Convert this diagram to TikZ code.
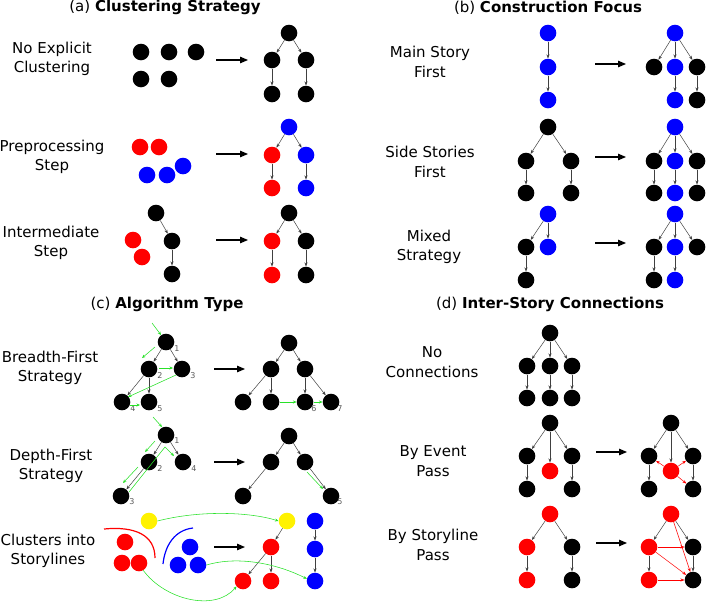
\documentclass[tikz,border=0pt]{standalone}
\usepackage{fontspec}
\setmainfont{DejaVu Sans}
\usetikzlibrary{arrows.meta}
\definecolor{lgreen}{RGB}{40,225,40}
\begin{document}
\begin{tikzpicture}[x=1pt,y=-1pt,
  ball/.style={circle,inner sep=0pt,minimum size=16.6pt,fill=#1},
  ball/.default=black,
  ed/.style={draw=black!75,line width=0.5pt,-{Stealth[length=4pt,width=3pt]}},
  big/.style={draw=black,line width=1.1pt,-{Triangle[length=8pt,width=6.5pt]}},
  ga/.style={draw=lgreen,line width=0.55pt,-{Stealth[length=3.5pt,width=3pt]}},
  ra/.style={draw=red,line width=0.5pt,-{Stealth[length=4pt,width=3pt]}},
  lab/.style={align=center,font=\fontsize{15}{19.5}\selectfont},
  ttl/.style={font=\fontsize{15}{18}\selectfont},
  num/.style={font=\fontsize{8}{9}\selectfont,text=black!65,inner sep=0pt},
]
\useasboundingbox (0,0) rectangle (706,603);

%% ---------------- (a) ----------------
\node[ttl] (ta) at (165,7.5) {(a) \textbf{Clustering Strategy}};
% row 1
\node[lab] (la1) at (52,59) {No Explicit\\Clustering};
\node[ball] (a1d1) at (141,52) {};
\node[ball] (a1d2) at (169,52) {};
\node[ball] (a1d3) at (196,52) {};
\node[ball] (a1d4) at (141,79) {};
\node[ball] (a1d5) at (169,79) {};
\coordinate (a1s) at (216,60); \coordinate (a1e) at (248,60);
\draw[big] (a1s) -- (a1e);
\node[ball] (a1r) at (289,33) {};
\node[ball] (a1c1) at (272,60) {};
\node[ball] (a1c2) at (306,60) {};
\node[ball] (a1g1) at (272,94) {};
\node[ball] (a1g2) at (306,94) {};
\draw[ed] (a1r) -- (a1c1); \draw[ed] (a1r) -- (a1c2);
\draw[ed] (a1c1) -- (a1g1); \draw[ed] (a1c2) -- (a1g2);
% row 2
\node[lab] (la2) at (52,157) {Preprocessing\\Step};
\node[ball=red] (a2d1) at (140,147) {};
\node[ball=red] (a2d2) at (159,147) {};
\node[ball=blue] (a2d3) at (147,175) {};
\node[ball=blue] (a2d4) at (167,175) {};
\node[ball=blue] (a2d5) at (183,166) {};
\coordinate (a2s) at (216,154); \coordinate (a2e) at (248,154);
\draw[big] (a2s) -- (a2e);
\node[ball=blue] (a2r) at (289,127) {};
\node[ball=red] (a2c1) at (272,155) {};
\node[ball=blue] (a2c2) at (306,155) {};
\node[ball=red] (a2g1) at (272,188) {};
\node[ball=blue] (a2g2) at (306,188) {};
\draw[ed] (a2r) -- (a2c1); \draw[ed] (a2r) -- (a2c2);
\draw[ed] (a2c1) -- (a2g1); \draw[ed] (a2c2) -- (a2g2);
% row 3
\node[lab] (la3) at (51,243) {Intermediate\\Step};
\node[ball] (a3d1) at (156,213) {};
\node[ball] (a3d2) at (172,241) {};
\node[ball] (a3d3) at (172,274) {};
\node[ball=red] (a3d4) at (133,240) {};
\node[ball=red] (a3d5) at (142,257) {};
\draw[ed] (a3d1) -- (a3d2); \draw[ed] (a3d2) -- (a3d3);
\coordinate (a3s) at (216,240); \coordinate (a3e) at (248,240);
\draw[big] (a3s) -- (a3e);
\node[ball] (a3r) at (289,213) {};
\node[ball=red] (a3c1) at (272,241) {};
\node[ball] (a3c2) at (306,241) {};
\node[ball=red] (a3g1) at (272,275) {};
\node[ball] (a3g2) at (306,275) {};
\draw[ed] (a3r) -- (a3c1); \draw[ed] (a3r) -- (a3c2);
\draw[ed] (a3c1) -- (a3g1); \draw[ed] (a3c2) -- (a3g2);

%% ---------------- (b) ----------------
\node[ttl] (tb) at (548,7.5) {(b) \textbf{Construction Focus}};
% row 1
\node[lab] (lb1) at (430,62) {Main Story\\First};
\node[ball=blue] (b1a) at (548,33) {};
\node[ball=blue] (b1b) at (548,67) {};
\node[ball=blue] (b1c) at (548,100) {};
\draw[ed] (b1a) -- (b1b); \draw[ed] (b1b) -- (b1c);
\coordinate (b1s) at (595,64); \coordinate (b1e) at (626,64);
\draw[big] (b1s) -- (b1e);
\node[ball=blue] (b1r) at (675,33) {};
\node[ball] (b1c1) at (654,67) {};
\node[ball=blue] (b1c2) at (675,67) {};
\node[ball] (b1c3) at (697,67) {};
\node[ball=blue] (b1g2) at (675,100) {};
\node[ball] (b1g3) at (697,100) {};
\draw[ed] (b1r) -- (b1c1); \draw[ed] (b1r) -- (b1c2); \draw[ed] (b1r) -- (b1c3);
\draw[ed] (b1c2) -- (b1g2); \draw[ed] (b1c3) -- (b1g3);
% row 2
\node[lab] (lb2) at (430,162) {Side Stories\\First};
\node[ball] (b2r0) at (548,127) {};
\node[ball] (b2a1) at (526,161) {};
\node[ball] (b2a2) at (571,161) {};
\node[ball] (b2b1) at (526,193) {};
\node[ball] (b2b2) at (571,193) {};
\draw[ed] (b2r0) -- (b2a1); \draw[ed] (b2r0) -- (b2a2);
\draw[ed] (b2a1) -- (b2b1); \draw[ed] (b2a2) -- (b2b2);
\coordinate (b2s) at (595,157); \coordinate (b2e) at (626,157);
\draw[big] (b2s) -- (b2e);
\node[ball=blue] (b2r) at (675,127) {};
\node[ball] (b2c1) at (654,161) {};
\node[ball=blue] (b2c2) at (675,161) {};
\node[ball] (b2c3) at (697,161) {};
\node[ball] (b2g1) at (654,193) {};
\node[ball=blue] (b2g2) at (675,193) {};
\node[ball] (b2g3) at (697,193) {};
\draw[ed] (b2r) -- (b2c1); \draw[ed] (b2r) -- (b2c2); \draw[ed] (b2r) -- (b2c3);
\draw[ed] (b2c1) -- (b2g1); \draw[ed] (b2c2) -- (b2g2); \draw[ed] (b2c3) -- (b2g3);
% row 3
\node[lab] (lb3) at (429,247) {Mixed\\Strategy};
\node[ball=blue] (b3r0) at (548,214) {};
\node[ball] (b3a1) at (526,247) {};
\node[ball=blue] (b3a2) at (548,247) {};
\node[ball] (b3b1) at (526,280) {};
\draw[ed] (b3r0) -- (b3a1); \draw[ed] (b3r0) -- (b3a2); \draw[ed] (b3a1) -- (b3b1);
\coordinate (b3s) at (595,243); \coordinate (b3e) at (626,243);
\draw[big] (b3s) -- (b3e);
\node[ball=blue] (b3r) at (675,214) {};
\node[ball] (b3c1) at (654,247) {};
\node[ball=blue] (b3c2) at (675,247) {};
\node[ball] (b3c3) at (697,247) {};
\node[ball] (b3g1) at (654,280) {};
\node[ball=blue] (b3g2) at (675,280) {};
\draw[ed] (b3r) -- (b3c1); \draw[ed] (b3r) -- (b3c2); \draw[ed] (b3r) -- (b3c3);
\draw[ed] (b3c1) -- (b3g1); \draw[ed] (b3c2) -- (b3g2);

%% ---------------- (c) ----------------
\node[ttl] (tc) at (167,304) {(c) \textbf{Algorithm Type}};
% breadth-first
\node[lab] (lc1) at (50,368) {Breadth-First\\Strategy};
\node[ball] (c1n1) at (166,342) {};
\node[ball] (c1n2) at (149,369) {};
\node[ball] (c1n3) at (182,369) {};
\node[ball] (c1n4) at (122,402) {};
\node[ball] (c1n5) at (149,402) {};
\node[num] (c1k1) at (177,349) {1};
\node[num] (c1k2) at (160,376) {2};
\node[num] (c1k3) at (193,376) {3};
\node[num] (c1k4) at (133,409) {4};
\node[num] (c1k5) at (160,409) {5};
\draw[ed] (c1n1) -- (c1n2); \draw[ed] (c1n1) -- (c1n3);
\draw[ed] (c1n2) -- (c1n4); \draw[ed] (c1n2) -- (c1n5);
\coordinate (c1p0) at (152,323); \coordinate (c1q0) at (161,335);
\coordinate (c1p1) at (155,347); \coordinate (c1q1) at (142,358);
\coordinate (c1p2) at (159,368); \coordinate (c1q2) at (173,368);
\coordinate (c1p3) at (176,375); \coordinate (c1q3) at (128,397);
\coordinate (c1p4) at (130,405); \coordinate (c1q4) at (140,405);
\draw[ga] (c1p0) -- (c1q0); \draw[ga] (c1p1) -- (c1q1);
\draw[ga] (c1p2) -- (c1q2); \draw[ga] (c1p3) -- (c1q3);
\draw[ga] (c1p4) -- (c1q4);
\coordinate (c1s) at (214,369); \coordinate (c1e) at (245,369);
\draw[big] (c1s) -- (c1e);
\node[ball] (c1r) at (289,343) {};
\node[ball] (c1c1) at (271,369) {};
\node[ball] (c1c2) at (305,369) {};
\node[ball] (c1g1) at (243,402) {};
\node[ball] (c1g2) at (271,402) {};
\node[ball] (c1g3) at (305,402) {};
\node[ball] (c1g4) at (331,402) {};
\node[num] (c1k6) at (314,409) {6};
\node[num] (c1k7) at (340,409) {7};
\draw[ed] (c1r) -- (c1c1); \draw[ed] (c1r) -- (c1c2);
\draw[ed] (c1c1) -- (c1g1); \draw[ed] (c1c1) -- (c1g2);
\draw[ed] (c1c2) -- (c1g3); \draw[ed] (c1c2) -- (c1g4);
\draw[ga] (c1g2) -- (c1g3); \draw[ga] (c1g3) -- (c1g4);
% depth-first
\node[lab] (lc2) at (51,466) {Depth-First\\Strategy};
\node[ball] (c2n1) at (166,435) {};
\node[ball] (c2n2) at (149,462) {};
\node[ball] (c2n4) at (183,462) {};
\node[ball] (c2n3) at (121,496) {};
\node[num] (c2k1) at (177,441) {1};
\node[num] (c2k2) at (160,469) {2};
\node[num] (c2k4) at (194,469) {4};
\node[num] (c2k3) at (132,502) {3};
\draw[ed] (c2n1) -- (c2n2); \draw[ed] (c2n1) -- (c2n4); \draw[ed] (c2n2) -- (c2n3);
\coordinate (c2p0) at (153,417); \coordinate (c2q0) at (162,427);
\coordinate (c2p1) at (155,441); \coordinate (c2q1) at (145,452);
\coordinate (c2p2) at (138,467); \coordinate (c2q2) at (123,483);
\coordinate (c2p3) at (129,492); \coordinate (c2m3) at (165,447); \coordinate (c2q3) at (174,456);
\draw[ga] (c2p0) -- (c2q0); \draw[ga] (c2p1) -- (c2q1);
\draw[ga] (c2p2) -- (c2q2); \draw[ga] (c2p3) -- (c2m3) -- (c2q3);
\coordinate (c2s) at (214,462); \coordinate (c2e) at (245,462);
\draw[big] (c2s) -- (c2e);
\node[ball] (c2r) at (289,436) {};
\node[ball] (c2c1) at (271,462) {};
\node[ball] (c2c2) at (305,462) {};
\node[ball] (c2g1) at (243,496) {};
\node[ball] (c2g2) at (331,496) {};
\node[num] (c2k5) at (340,502) {5};
\draw[ed] (c2r) -- (c2c1); \draw[ed] (c2r) -- (c2c2);
\draw[ed] (c2c1) -- (c2g1); \draw[ed] (c2c2) -- (c2g2);
\coordinate (c2p5) at (307,472); \coordinate (c2q5) at (323,489);
\draw[ga] (c2p5) -- (c2q5);
% clusters into storylines
\node[lab] (lc3) at (48,551) {Clusters into\\Storylines};
\node[ball=yellow] (c3y1) at (149,521) {};
\node[ball=red] (c3r1) at (125,542) {};
\node[ball=red] (c3r2) at (122,563) {};
\node[ball=red] (c3r3) at (139,563) {};
\node[ball=blue] (c3b1) at (190,547) {};
\node[ball=blue] (c3b2) at (178,565) {};
\node[ball=blue] (c3b3) at (198,565) {};
\draw[red,line width=1.2pt] (104,529) .. controls (135,526) and (155,535) .. (155,558);
\draw[blue,line width=1.2pt] (193,528) .. controls (175,530) and (165,545) .. (163,564);
\coordinate (c3s) at (214,547); \coordinate (c3e) at (245,547);
\draw[big] (c3s) -- (c3e);
\node[ball=yellow] (c3y2) at (287,521) {};
\node[ball=red] (c3R1) at (271,547) {};
\node[ball=red] (c3R2) at (243,581) {};
\node[ball=red] (c3R3) at (271,581) {};
\node[ball=blue] (c3B1) at (315,521) {};
\node[ball=blue] (c3B2) at (315,549) {};
\node[ball=blue] (c3B3) at (315,581) {};
\draw[ed] (c3y2) -- (c3R1); \draw[ed] (c3R1) -- (c3R2); \draw[ed] (c3R1) -- (c3R3);
\draw[ed] (c3B1) -- (c3B2); \draw[ed] (c3B2) -- (c3B3);
\draw[ga] (c3y1.east) .. controls (200,510) and (250,512) .. (c3y2.west);
\draw[ga] (c3b3.east) .. controls (240,555) and (280,565) .. (c3B3.165);
\draw[ga] (c3r3.-60) .. controls (165,600) and (215,612) .. (c3R2.-140);

%% ---------------- (d) ----------------
\node[ttl] (td) at (550,304) {(d) \textbf{Inter-Story Connections}};
% no connections
\node[lab] (ld1) at (432,362) {No\\Connections};
\node[ball] (d1r) at (550,333) {};
\node[ball] (d1c1) at (527,366) {};
\node[ball] (d1c2) at (550,366) {};
\node[ball] (d1c3) at (572,366) {};
\node[ball] (d1g1) at (527,398) {};
\node[ball] (d1g2) at (550,398) {};
\node[ball] (d1g3) at (572,398) {};
\draw[ed] (d1r) -- (d1c1); \draw[ed] (d1r) -- (d1c2); \draw[ed] (d1r) -- (d1c3);
\draw[ed] (d1c1) -- (d1g1); \draw[ed] (d1c2) -- (d1g2); \draw[ed] (d1c3) -- (d1g3);
% by event pass
\node[lab] (ld2) at (433,461) {By Event\\Pass};
\node[ball] (d2r0) at (550,423) {};
\node[ball] (d2a1) at (527,456) {};
\node[ball=red] (d2a2) at (550,471) {};
\node[ball] (d2a3) at (572,456) {};
\node[ball] (d2b1) at (527,489) {};
\node[ball] (d2b3) at (572,489) {};
\draw[ed] (d2r0) -- (d2a1); \draw[ed] (d2r0) -- (d2a2); \draw[ed] (d2r0) -- (d2a3);
\draw[ed] (d2a1) -- (d2b1); \draw[ed] (d2a3) -- (d2b3);
\coordinate (d2s) at (596,452); \coordinate (d2e) at (627,452);
\draw[big] (d2s) -- (d2e);
\node[ball] (d2r) at (671,423) {};
\node[ball] (d2c1) at (649,456) {};
\node[ball=red] (d2c2) at (671,471) {};
\node[ball] (d2c3) at (693,456) {};
\node[ball] (d2g1) at (649,489) {};
\node[ball] (d2g3) at (693,489) {};
\draw[ed] (d2r) -- (d2c1); \draw[ed] (d2r) -- (d2c2); \draw[ed] (d2r) -- (d2c3);
\draw[ed] (d2c1) -- (d2g1); \draw[ed] (d2c3) -- (d2g3);
\draw[ra] (d2c2) -- (d2c1); \draw[ra] (d2c2) -- (d2c3); \draw[ra] (d2c2) -- (d2g3);
% by storyline pass
\node[lab] (ld3) at (433,545) {By Storyline\\Pass};
\node[ball=red] (d3r0) at (550,514) {};
\node[ball=red] (d3a1) at (527,547) {};
\node[ball] (d3a2) at (572,547) {};
\node[ball=red] (d3b1) at (527,580) {};
\node[ball] (d3b2) at (572,580) {};
\draw[ed] (d3r0) -- (d3a1); \draw[ed] (d3r0) -- (d3a2);
\draw[ed] (d3a1) -- (d3b1); \draw[ed] (d3a2) -- (d3b2);
\coordinate (d3s) at (596,543); \coordinate (d3e) at (627,543);
\draw[big] (d3s) -- (d3e);
\node[ball=red] (d3r) at (671,514) {};
\node[ball=red] (d3c1) at (649,547) {};
\node[ball] (d3c2) at (693,547) {};
\node[ball=red] (d3g1) at (649,580) {};
\node[ball] (d3g2) at (693,580) {};
\draw[ed] (d3r) -- (d3c1); \draw[ed] (d3r) -- (d3c2);
\draw[ed] (d3c1) -- (d3g1); \draw[ed] (d3c2) -- (d3g2);
\draw[ra] (d3r) -- (d3g2); \draw[ra] (d3c1) -- (d3c2);
\draw[ra] (d3c1) -- (d3g2); \draw[ra] (d3g1) -- (d3g2);
\end{tikzpicture}
\end{document}
